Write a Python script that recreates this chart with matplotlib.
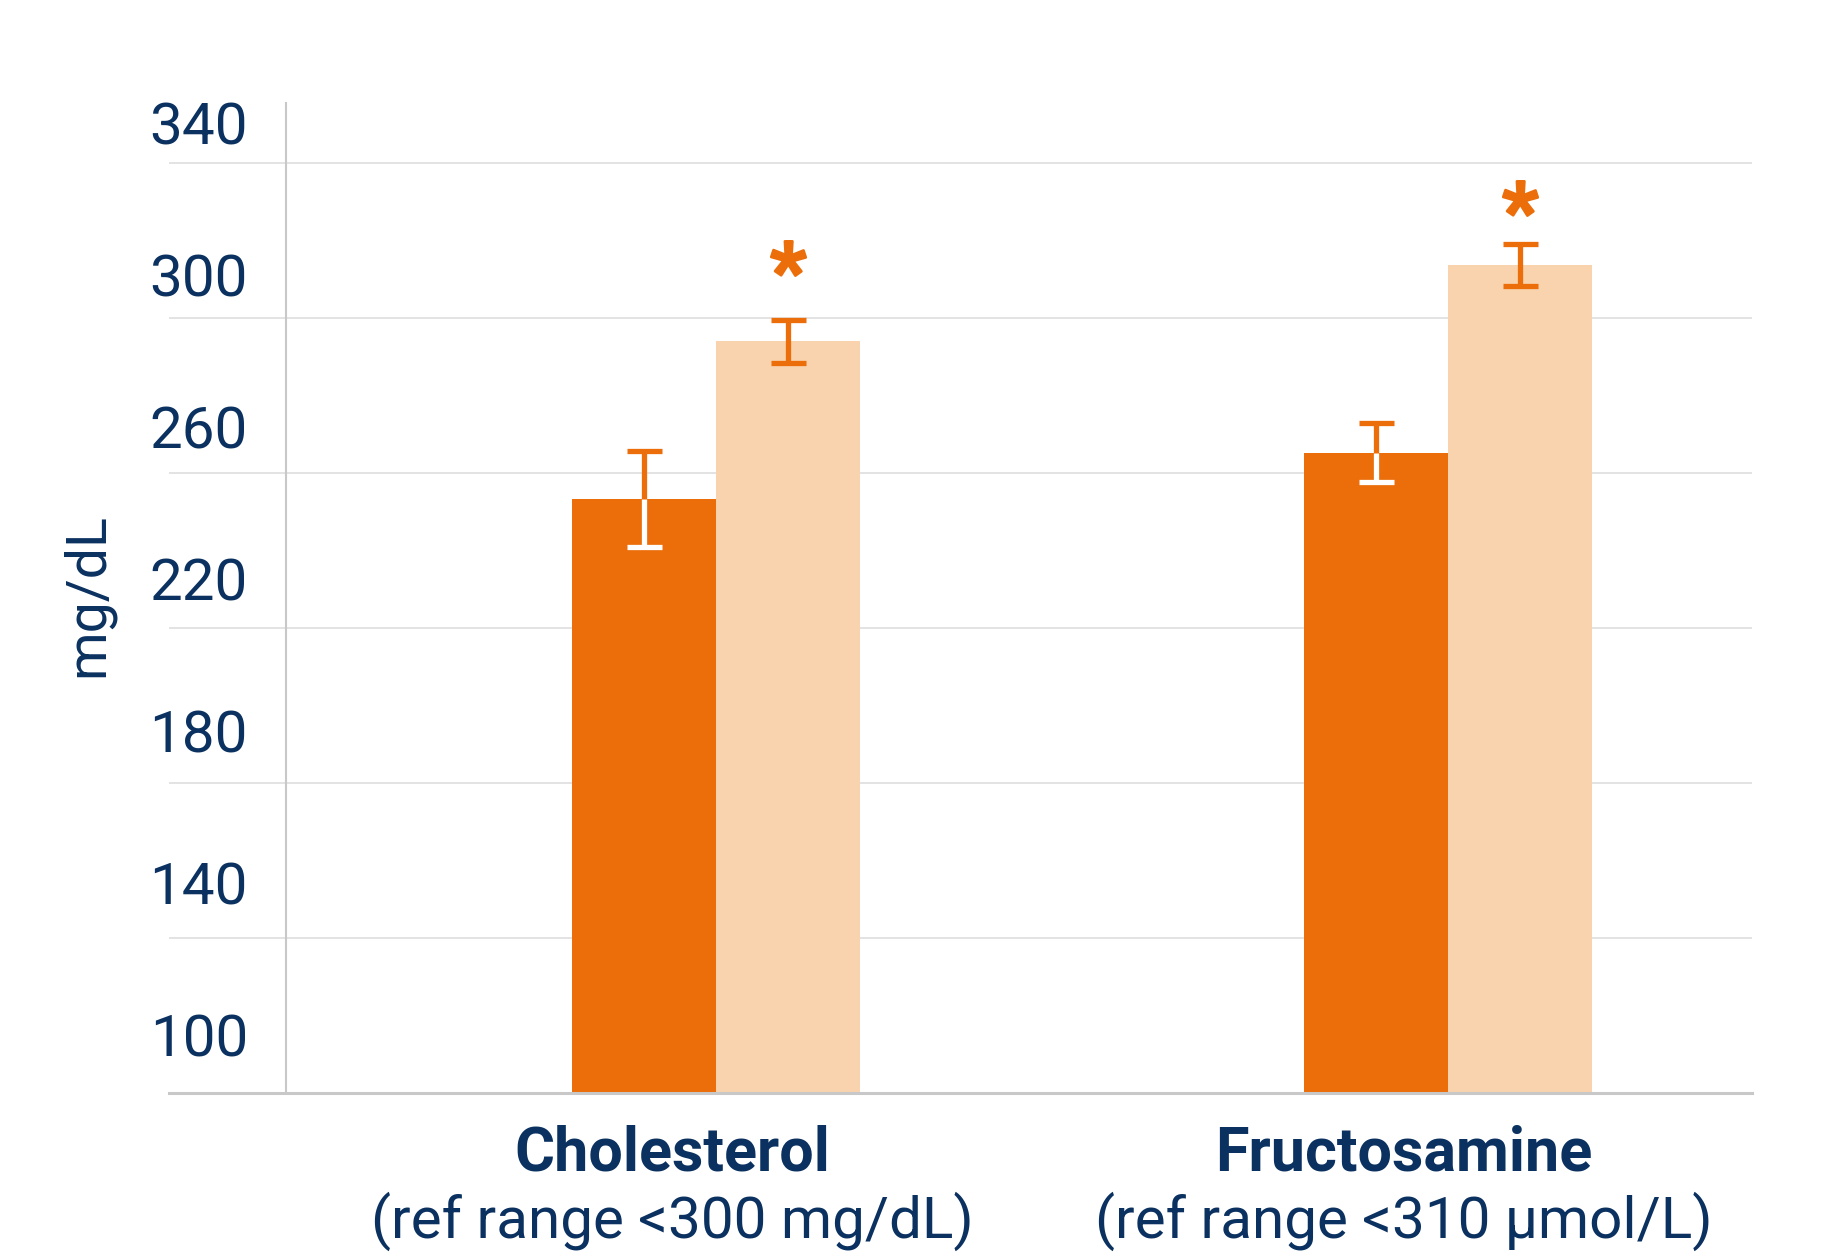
import numpy as np
import matplotlib
matplotlib.use('Agg')
from matplotlib import pyplot as plt
from matplotlib import transforms
from matplotlib.path import Path
from matplotlib.textpath import TextPath
from matplotlib.font_manager import FontProperties

# 数据
categories = ['Cholesterol', 'Fructosamine']
ref_ranges = ['(ref range <300 mg/dL)', '(ref range <310 µmol/L)']
dark_vals = [253.3, 265.3]
dark_err = [12.5, 7.7]
light_vals = [294.0, 313.8]
light_err = [5.5, 5.4]
star_y = [315.5, 331.0]
yticks = [100, 140, 180, 220, 260, 300, 340]

orange = '#EB6E0A'
peach = '#F9D3AE'
navy = '#0B3160'

plt.rcParams['font.family'] = ['Roboto', 'DejaVu Sans']

fig = plt.figure(figsize=(18.22, 12.54), dpi=100)
ax = fig.add_axes([169 / 1822, 1 - 1093 / 1254, 1583 / 1822, 990 / 1254])

x = np.arange(len(categories))
w = 0.197
x_dark = x - w / 2
x_light = x + w / 2

ax.bar(x_dark, dark_vals, width=w, color=orange, zorder=2)
ax.bar(x_light, light_vals, width=w, color=peach, zorder=2)

# 误差线
ax.errorbar(x_dark, dark_vals, yerr=dark_err, fmt='none', ecolor=orange,
            elinewidth=3.8, capsize=12.6, capthick=3.8, zorder=4)
ax.errorbar(x_light, light_vals, yerr=light_err, fmt='none', ecolor=orange,
            elinewidth=3.8, capsize=12.6, capthick=3.8, zorder=4)
# 深色柱内部的误差线画成白色
low = np.array(dark_vals) - np.array(dark_err)
ax.vlines(x_dark, low, dark_vals, color='white', lw=3.8, zorder=5)
ax.plot(x_dark, low, ls='none', marker='_', ms=25.2, mew=3.8, color='white', zorder=5)

# 显著性星号: 用字形轮廓做marker, 先移到中心
star = TextPath((0, 0), '*', prop=FontProperties(family='Roboto', weight='bold'))
ext = star.get_extents()
verts = star.vertices - [(ext.x0 + ext.x1) / 2, (ext.y0 + ext.y1) / 2]
verts[star.codes == Path.CLOSEPOLY] = 0
star = Path(verts, star.codes)
ax.plot(x_light, star_y, ls='none', marker=star, ms=25, color=orange,
        mec=orange, mew=1.8, zorder=5)

ax.set_xlim(-0.747, 1.415)
ax.set_ylim(100, 355.5)
ax.set_xticks([])
ax.set_yticks(yticks)
ax.set_yticklabels([])
ax.tick_params(length=0)
ax.set_axisbelow(True)
ax.yaxis.grid(True, color='#E3E3E3', lw=1.4)

for s in ['top', 'right']:
    ax.spines[s].set_visible(False)
ax.spines['left'].set_position(('data', -0.587))
ax.spines['left'].set_color('#C8C8C8')
ax.spines['left'].set_linewidth(1.5)
ax.spines['bottom'].set_color('#C8C8C8')
ax.spines['bottom'].set_linewidth(2.2)

# y轴刻度文字, 放在网格线上方
base_tr = transforms.blended_transform_factory(ax.transAxes, ax.transData)
for v in yticks:
    up = (34 + (340 - v) * 0.075) / 100
    tr = base_tr + transforms.ScaledTranslation(0, up, fig.dpi_scale_trans)
    ax.text(0.0499, v, str(v), transform=tr, ha='right', va='center',
            fontsize=42, color=navy)

fig.text(87 / 1822, 1 - 595 / 1254, 'mg/dL', rotation=90, ha='center', va='center',
         fontsize=40, color=navy)

cat_tr = transforms.blended_transform_factory(ax.transData, fig.transFigure)
for xi, name, rr in zip(x, categories, ref_ranges):
    ax.text(xi - 0.06, 0.0662, name, transform=cat_tr, ha='center', va='baseline',
            fontsize=44, fontweight='bold', color=navy, clip_on=False)
    ax.text(xi - 0.06, 0.0128, rr, transform=cat_tr, ha='center', va='baseline',
            fontsize=42, color=navy, clip_on=False)

fig.savefig('out.png', dpi=100)
